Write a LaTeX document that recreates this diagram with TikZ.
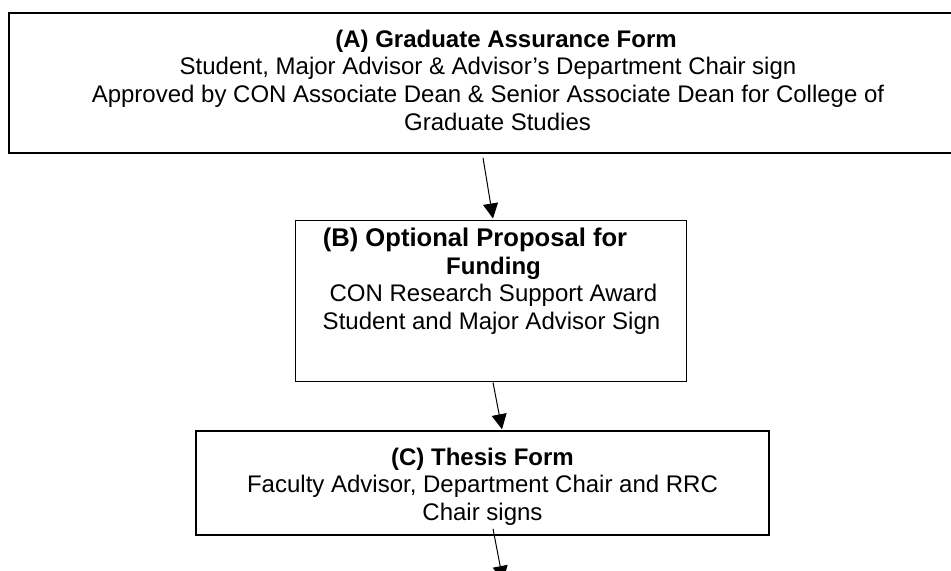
\documentclass[tikz,border=0pt]{standalone}
\usepackage{fontspec}
\setmainfont{Liberation Sans}
\usetikzlibrary{arrows.meta}
\begin{document}
\begin{tikzpicture}[x=0.5pt,y=-0.5pt,
  boxthick/.style={draw, line width=0.75pt, inner sep=0pt},
  boxthin/.style={draw, line width=0.5pt, inner sep=0pt},
  txt/.style={align=center, inner sep=0pt, anchor=north, font=\fontsize{12pt}{13.8pt}\selectfont},
  arr/.style={line width=0.5pt, -{Triangle[length=7.5pt,width=7.5pt]}}]
\useasboundingbox (0,0) rectangle (951,571);
\clip (0,0) rectangle (951,571);
\fill[white] (0,0) rectangle (951,571);
% boxes
\node[boxthick, minimum width=496.5pt, minimum height=70pt] (A) at (505.5,83) {};
\node[boxthin, minimum width=195.5pt, minimum height=80pt] (B) at (490.5,301) {};
\node[boxthick, minimum width=286.5pt, minimum height=52pt] (C) at (482.5,483) {};
% texts
\node[txt] (At) at (488,29.5) {\hspace*{18pt}\textbf{(A) Graduate Assurance Form}\\Student, Major Advisor \& Advisor’s Department Chair sign\hspace*{1.5pt}\\Approved by CON Associate Dean \& Senior Associate Dean for College of\\\hspace*{9.5pt}Graduate Studies};
\node[txt] (Bt) at (493.5,227.5) {{\fontsize{12.8pt}{13.8pt}\selectfont\textbf{(B) Optional Proposal for}}\hspace*{18.5pt}\\\textbf{Funding}\hspace*{2pt}\\CON Research Support Award\\Student and Major Advisor Sign\hspace*{2pt}};
\node[txt] (Ct) at (482.5,447.5) {\textbf{(C) Thesis Form}\\Faculty Advisor, Department Chair and RRC\\Chair signs};
% connectors
\coordinate (D) at (503,581);
\draw[arr] ([xshift=-11.25pt,yshift=-2pt]A.south) -- ([xshift=1.25pt,yshift=1pt]B.north);
\draw[arr] ([xshift=1.25pt,yshift=-0.5pt]B.south) -- ([xshift=9.75pt,yshift=0.5pt]C.north);
\draw[arr] ([xshift=5.25pt,yshift=3.5pt]C.south) -- (D);
\end{tikzpicture}
\end{document}
